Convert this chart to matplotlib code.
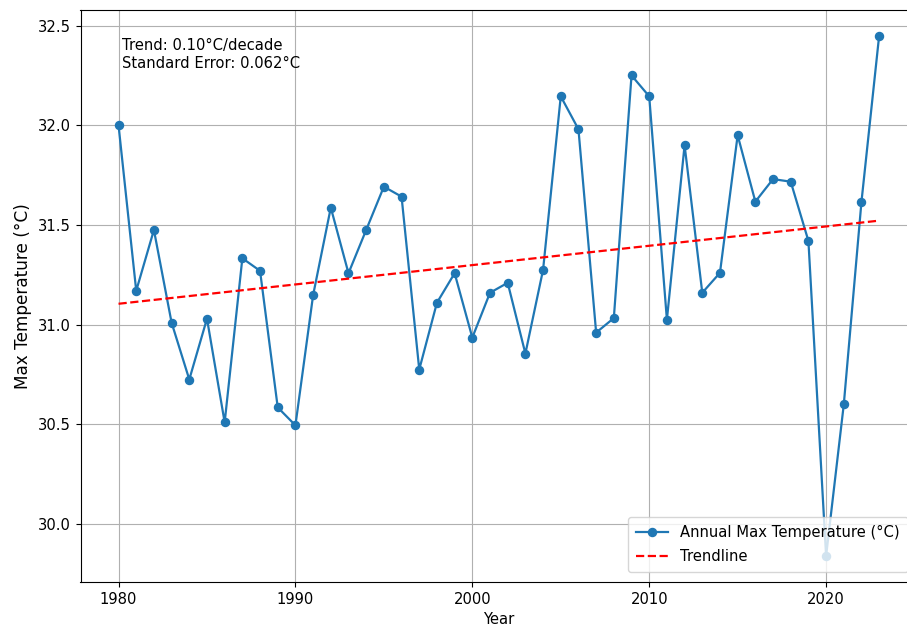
import numpy as np
import matplotlib
matplotlib.use("Agg")
import matplotlib.pyplot as plt

years = np.arange(1980, 2024)
max_temp = [
    32.00, 31.17, 31.475, 31.01, 30.725, 31.03, 30.51, 31.333, 31.27, 30.585,
    30.495, 31.148, 31.587, 31.258, 31.475, 31.692, 31.642, 30.775, 31.11, 31.258,
    30.935, 31.16, 31.21, 30.855, 31.275, 32.145, 31.98, 30.96, 31.033, 32.25,
    32.145, 31.025, 31.90, 31.16, 31.26, 31.95, 31.617, 31.73, 31.717, 31.42,
    29.84, 30.60, 31.617, 32.45,
]
trend_text = "Trend: 0.10°C/decade\nStandard Error: 0.062°C"

# linear fit for the trendline
slope, intercept = np.polyfit(years, max_temp, 1)
trend = slope * years + intercept

plt.rcParams['font.size'] = 10.6

fig = plt.figure(figsize=(9.07, 6.36), dpi=100)
# axes run past the right edge, like the cropped original
ax = fig.add_axes([80.5 / 907, 54 / 636, 836.7 / 907, 572.5 / 636])

ax.plot(years, max_temp, marker='o', markersize=5.8, linewidth=1.6,
        label='Annual Max Temperature (°C)')
ax.plot(years, trend, 'r--', linewidth=1.6, label='Trendline')

ax.set_xlabel('Year')
ax.set_ylabel('Max Temperature (°C)', fontsize=12.2)
ax.grid(True)
ax.legend(loc='lower right', labelspacing=0.65, borderpad=0.55,
          borderaxespad=0.65, handlelength=2.2)
ax.text(0.05, 0.95, trend_text, transform=ax.transAxes, va='top', ha='left')

fig.savefig('out.png', dpi=100)
